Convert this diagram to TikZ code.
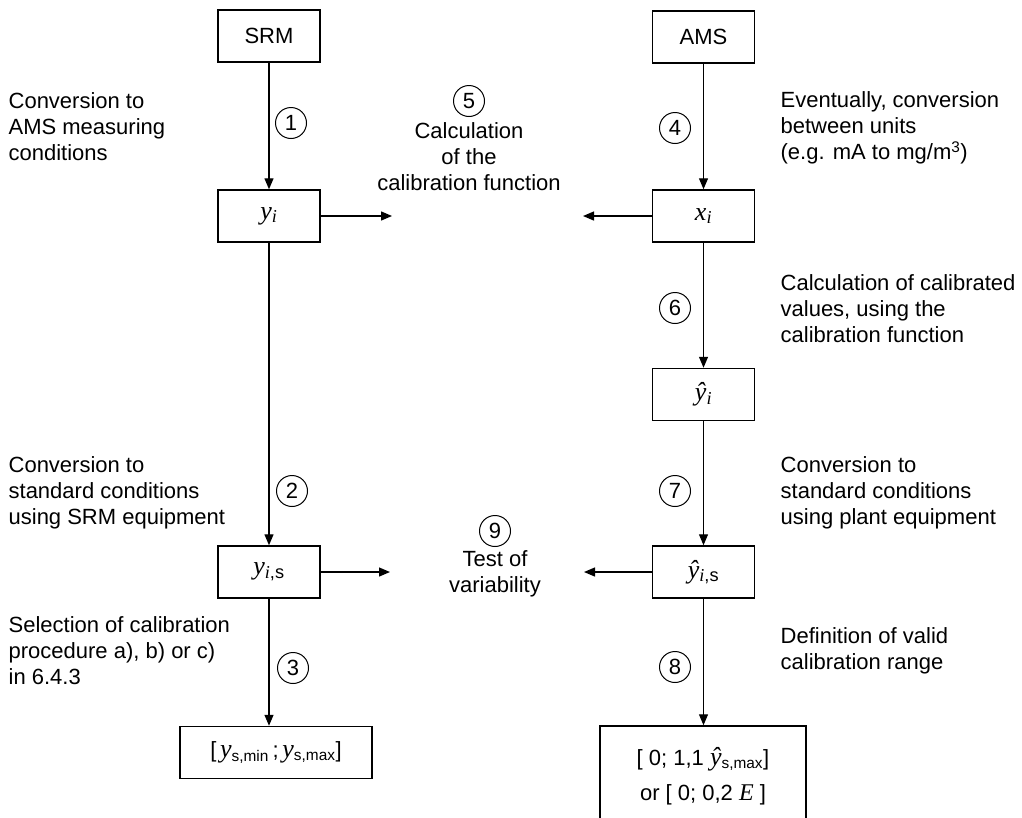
\documentclass[tikz,border=0pt]{standalone}
\usepackage{fontspec}
\setmainfont{Liberation Sans}
\newfontfamily\serifit{Liberation Serif}
\newcommand{\vy}{{\serifit\itshape y}}
\newcommand{\vyhat}{{\serifit\itshape ŷ}}
\newcommand{\vi}{{\serifit\itshape i}}
\usetikzlibrary{arrows.meta,positioning}
\tikzset{
  every picture/.style={line width=1.3pt, font=\fontsize{22}{26}\selectfont},
  box/.style={draw, line width=1.5pt, minimum width=102pt, minimum height=52pt, inner sep=2pt, align=center},
  widebox/.style={box, minimum width=192pt},
  flow/.style={-{Triangle[length=11pt,width=9pt]}},
  stepno/.style={circle, draw, line width=1pt, minimum size=31pt, inner sep=0pt},
  note/.style={align=left, anchor=west, inner sep=0pt},
  centre/.style={align=center, inner sep=0pt},
}
\begin{document}
\begin{tikzpicture}[x=1pt, y=-1pt]
  \useasboundingbox (0,0) rectangle (1022,817);
  % SRM side
  \node[box] (srm) at (269,36) {SRM};
  \node[box] (yi) at (269,216) {\fontsize{26}{26}\selectfont\vy\textsubscript{\vi}};
  \node[box] (yis) at (269,572) {\fontsize{26}{26}\selectfont\vy\textsubscript{\vi,s}};
  \node[widebox] (srange) at (276,752.5) {[\,{\fontsize{26}{26}\selectfont\vy}\textsubscript{s,min}\,;\,{\fontsize{26}{26}\selectfont\vy}\textsubscript{s,max}]};
  % AMS side
  \node[box] (ams) at (703.5,37) {AMS};
  \node[box] (xi) at (703.5,216) {\fontsize{26}{26}\selectfont{\serifit\itshape x}\textsubscript{\vi}};
  \node[box] (yhi) at (703.5,394.5) {\fontsize{26}{26}\selectfont\vyhat\textsubscript{\vi}};
  \node[box] (yhis) at (703.5,572) {\fontsize{26}{26}\selectfont\vyhat\textsubscript{\vi,s}};
  \node[box, minimum width=206pt, minimum height=100pt] (arange) at (703,776)
    {[ 0; 1,1 {\fontsize{26}{26}\selectfont\vyhat}\textsubscript{s,max}]\\[9pt] or [ 0; 0,2 {\fontsize{24}{26}\selectfont\serifit\itshape E} ]};
  % centre
  \node[stepno] (n5) at (469,101) {5};
  \node[centre] (calfun) at (469,157) {Calculation\\of the\\calibration function};
  \node[stepno] (n9) at (495,531) {9};
  \node[centre] (vari) at (495,574) {Test of\\variability};
  \coordinate (c5l) at (392,216);
  \coordinate (c5r) at (583,216);
  \coordinate (c9l) at (390,572);
  \coordinate (c9r) at (584,572);
  % flows
  \draw[flow] (srm) -- (yi);
  \draw[flow] (yi) -- (yis);
  \draw[flow] (yis) -- (yis |- srange.north);
  \draw[flow] (ams) -- (xi);
  \draw[flow] (xi) -- (yhi);
  \draw[flow] (yhi) -- (yhis);
  \draw[flow] (yhis) -- (yhis |- arange.north);
  \draw[flow] (yi) -- (c5l);
  \draw[flow] (xi) -- (c5r);
  \draw[flow] (yis) -- (c9l);
  \draw[flow] (yhis) -- (c9r);
  % step numbers
  \node[stepno] (n1) at (291,123) {1};
  \node[stepno] (n2) at (292,491) {2};
  \node[stepno] (n3) at (293,668) {3};
  \node[stepno] (n4) at (675,128) {4};
  \node[stepno] (n6) at (675,308) {6};
  \node[stepno] (n7) at (675,491) {7};
  \node[stepno] (n8) at (675,667) {8};
  % notes
  \node[note] (t1) at (8,127) {Conversion to\\AMS measuring\\conditions};
  \node[note] (t2) at (8,493) {Conversion to\\standard conditions\\using SRM equipment};
  \node[note] (t3) at (8,651) {Selection of calibration\\procedure a), b) or c)\\in 6.4.3};
  \node[note] (t4) at (780,128) {Eventually, conversion\\between units\\(e.g. mA to mg/m\textsuperscript{3})};
  \node[note] (t6) at (780,309) {Calculation of calibrated\\values, using the\\calibration function};
  \node[note] (t7) at (780,493) {Conversion to\\standard conditions\\using plant equipment};
  \node[note] (t8) at (780,651) {Definition of valid\\calibration range};
\end{tikzpicture}
\end{document}
